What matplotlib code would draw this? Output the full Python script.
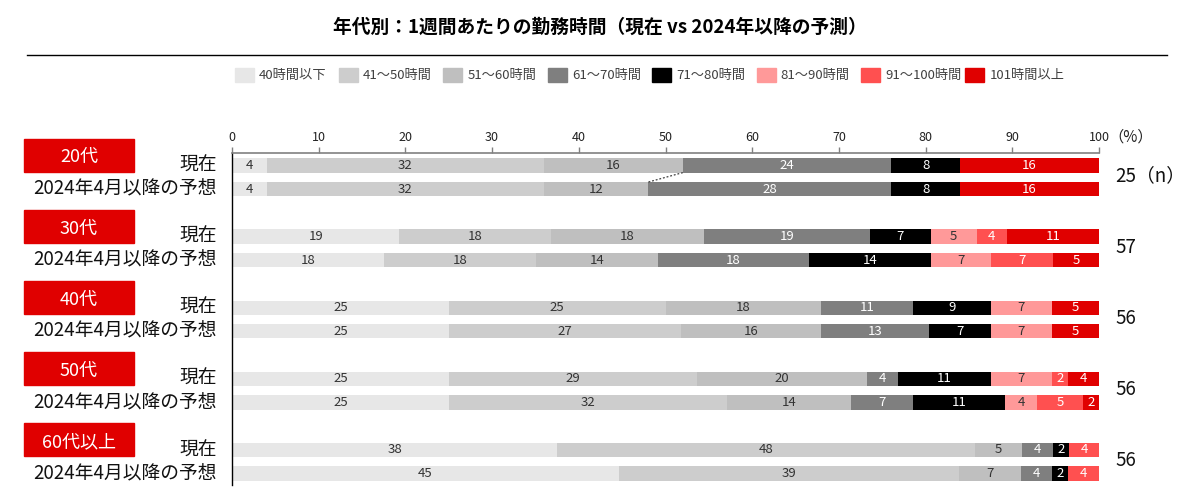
import matplotlib
matplotlib.use('Agg')
import matplotlib.pyplot as plt
import matplotlib.transforms as mtransforms
from matplotlib.patches import Rectangle
from matplotlib.lines import Line2D
import numpy as np

plt.rcParams['font.family'] = ['Noto Sans CJK JP', 'DejaVu Sans']
NARROW = ['Liberation Sans Narrow', 'Noto Sans CJK JP', 'DejaVu Sans']

title = '年代別：1週間あたりの勤務時間（現在 vs 2024年以降の予測）'
categories = ['40時間以下', '41～50時間', '51～60時間', '61～70時間',
              '71～80時間', '81～90時間', '91～100時間', '101時間以上']
colors = ['#e7e7e7', '#cdcdcd', '#bfbfbf', '#7f7f7f',
          '#000000', '#ff9999', '#ff5050', '#e00000']
text_colors = ['#333333', '#333333', '#333333', 'white',
               'white', '#333333', 'white', 'white']
groups = ['20代', '30代', '40代', '50代', '60代以上']
row_labels = ['現在', '2024年4月以降の予想']
n_values = [25, 57, 56, 56, 56]

# percentages per group, in category order
current = [
    [4.0, 32.0, 16.0, 24.0, 8.0, 0.0, 0.0, 16.0],
    [19.3, 17.5, 17.6, 19.2, 7.0, 5.3, 3.5, 10.6],
    [25.0, 25.0, 17.9, 10.7, 8.9, 7.1, 0.0, 5.4],
    [25.0, 28.6, 19.6, 3.6, 10.7, 7.1, 1.8, 3.6],
    [37.5, 48.2, 5.4, 3.6, 1.8, 0.0, 3.6, 0.0],
]
forecast = [
    [4.0, 32.0, 12.0, 28.0, 8.0, 0.0, 0.0, 16.0],
    [17.5, 17.6, 14.0, 17.5, 14.0, 7.0, 7.1, 5.3],
    [25.0, 26.8, 16.1, 12.5, 7.1, 7.1, 0.0, 5.4],
    [25.0, 32.1, 14.3, 7.1, 10.7, 3.6, 5.4, 1.8],
    [44.6, 39.3, 7.1, 3.6, 1.8, 0.0, 3.6, 0.0],
]

W, H = 1201, 500
fig = plt.figure(figsize=(W / 100, H / 100), dpi=100)
ax = fig.add_axes([232 / W, 1 - 485.4 / H, (1099 - 232) / W, (485.4 - 152.7) / H])

bar_h = 0.6
for g in range(len(groups)):
    for r, rows in enumerate([current, forecast]):
        y = g * 3 + r
        vals = np.array(rows[g])
        lefts = np.concatenate([[0], np.cumsum(vals)[:-1]])
        for i, (v, l) in enumerate(zip(vals, lefts)):
            if v <= 0:
                continue
            ax.barh(y, v, left=l, height=bar_h, color=colors[i], linewidth=0)
            ax.text(l + v / 2, y, str(int(v + 0.5)), ha='center', va='center',
                    fontsize=9.5, color=text_colors[i], family=NARROW)

# series line for 20代 between 51-60 and 61-70
c_now = np.cumsum(current[0])
c_fc = np.cumsum(forecast[0])
ax.plot([c_now[2], c_fc[2]], [bar_h / 2, 1 - bar_h / 2], ls=(0, (1.5, 1.5)),
        color='#404040', lw=0.9)

ax.set_xlim(0, 100)
ax.set_ylim(13.5, -0.54)
ax.xaxis.tick_top()
ax.set_xticks(range(0, 101, 10))
ax.tick_params(axis='x', direction='out', length=4, color='#808080', width=1,
               labelsize=9, pad=2, labelcolor='#222222')
for lab in ax.get_xticklabels():
    lab.set_family(NARROW)
ax.set_yticks([])
for s in ['right', 'bottom']:
    ax.spines[s].set_visible(False)
ax.spines['top'].set_color('#808080')
ax.spines['top'].set_linewidth(1.2)
ax.spines['left'].set_color('black')
ax.spines['left'].set_linewidth(1)

# left side labels
tr = mtransforms.blended_transform_factory(fig.transFigure, ax.transData)
box_h = 1.39
for g, name in enumerate(groups):
    yc = g * 3 - 0.44
    ax.add_patch(Rectangle((24 / W, yc - box_h / 2), 110 / W, box_h, transform=tr,
                           color='#e00000', clip_on=False))
    ax.text(79 / W, yc + 0.1, name, transform=tr, ha='center', va='center',
            fontsize=13, color='white')
    for r, lab in enumerate(row_labels):
        ax.text(217 / W, g * 3 + r, lab, transform=tr, ha='right', va='center',
                fontsize=13.5, color='#111111')
    n_txt = f'{n_values[g]}（n）' if g == 0 else str(n_values[g])
    ax.text(1115 / W, g * 3 + 0.45, n_txt, transform=tr, ha='left', va='center',
            fontsize=13.5, color='#111111')

fig.text(1108 / W, 1 - 137 / H, '（%）', ha='left', va='center', fontsize=11,
         color='#222222')

# title + rule
fig.text(600 / W, 1 - 27 / H, title, ha='center', va='center', fontsize=13.5,
         fontweight='bold')
fig.add_artist(Line2D([27 / W, 1167 / W], [1 - 55 / H, 1 - 55 / H], color='black', lw=1))

# legend
for i, cat in enumerate(categories):
    x0 = (234.6 + i * 104.4) / W
    fig.add_artist(Rectangle((x0, 1 - 82 / H), 19 / W, 14 / H, color=colors[i],
                             transform=fig.transFigure))
    fig.text(x0 + 24 / W, 1 - 75 / H, cat, ha='left', va='center', fontsize=9.5,
             color='#404040')

fig.savefig('out.png', dpi=100)
